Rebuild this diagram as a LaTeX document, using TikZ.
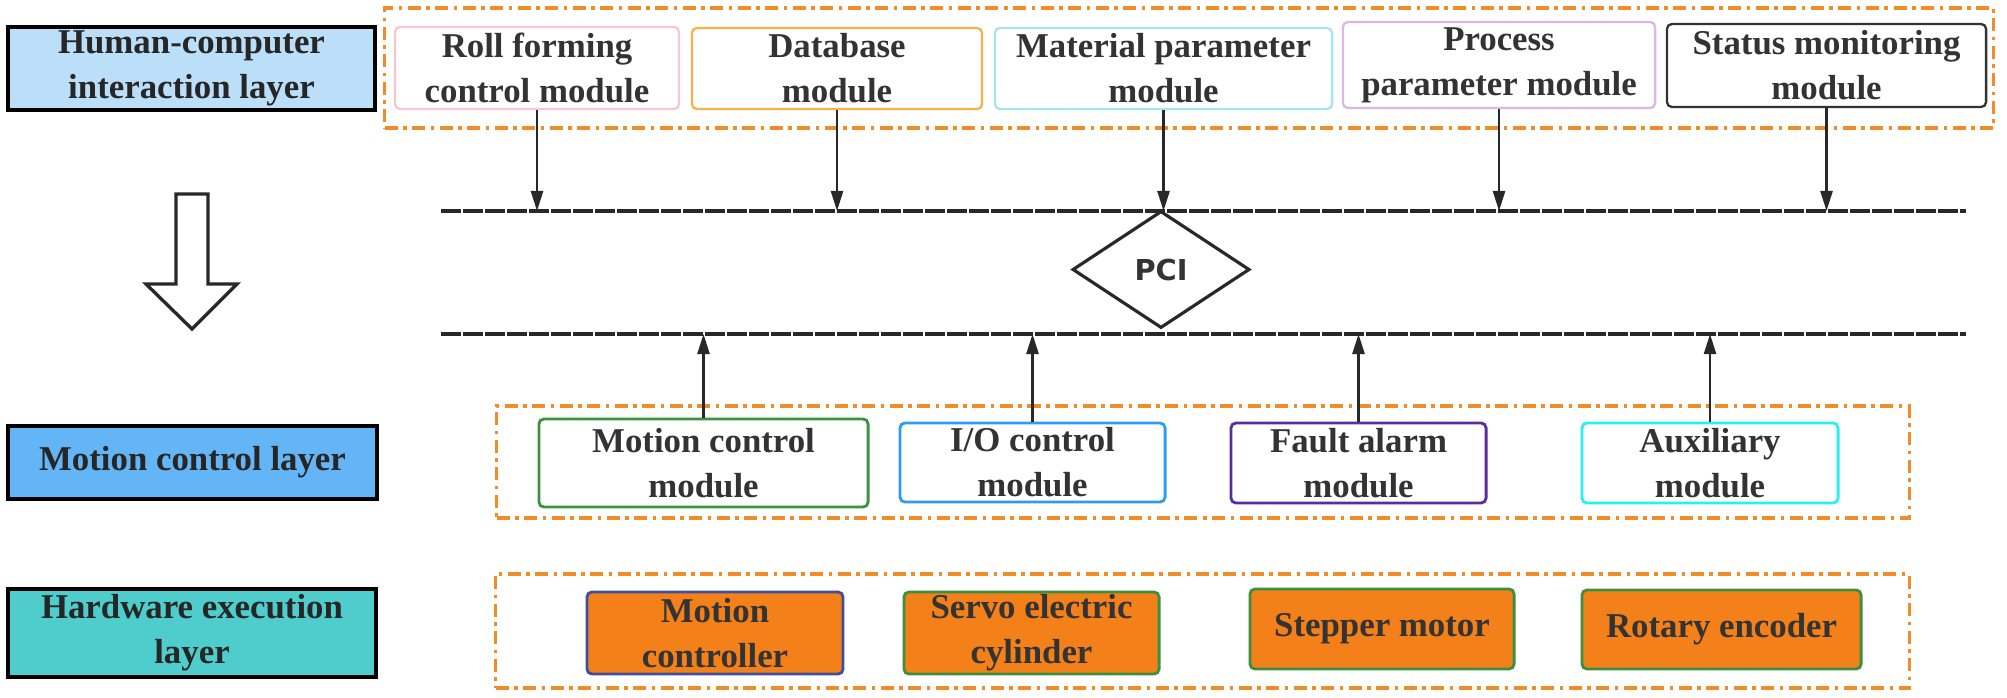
\documentclass[tikz,border=0pt]{standalone}
\usepackage{fontspec}
\setmainfont{Liberation Serif}
\newfontfamily\pcifont{DejaVu Sans}
\usetikzlibrary{shapes.geometric,arrows.meta}
\definecolor{hciFill}{RGB}{187,222,249}
\definecolor{mclFill}{RGB}{100,181,246}
\definecolor{hwlFill}{RGB}{78,205,204}
\definecolor{contOrange}{RGB}{242,140,40}
\definecolor{hwOrange}{RGB}{243,128,25}
\definecolor{txtDark}{RGB}{51,51,51}
\definecolor{lineDark}{RGB}{40,40,40}
\definecolor{cPink}{RGB}{248,198,207}
\definecolor{cOrange}{RGB}{247,178,74}
\definecolor{cLightCyan}{RGB}{169,227,238}
\definecolor{cViolet}{RGB}{221,182,230}
\definecolor{cGreen}{RGB}{62,145,66}
\definecolor{cBlue}{RGB}{47,155,240}
\definecolor{cPurple}{RGB}{91,44,158}
\definecolor{cCyan}{RGB}{42,240,240}
\definecolor{cNavy}{RGB}{62,79,160}
\definecolor{cHwGreen}{RGB}{60,143,60}
\begin{document}
\begin{tikzpicture}[x=0.01cm,y=-0.01cm,
  txt/.style={font=\bfseries\fontsize{9.9}{12.8}\selectfont, align=center, inner sep=0pt},
  layerbox/.style={txt, draw=black, line width=0.95pt, text=black!85},
  modbox/.style={txt, draw, rounded corners=0.05cm, fill=white, line width=0.65pt, text=txtDark},
  midbox/.style={modbox, line width=0.8pt},
  hwbox/.style={modbox, fill=hwOrange, line width=0.8pt},
  container/.style={draw=contOrange, line width=1pt, dash pattern=on 0.13cm off 0.055cm on 0.035cm off 0.055cm, inner sep=0pt},
  bus/.style={draw=lineDark, line width=1pt, dash pattern=on 0.2cm off 0.02cm},
  link/.style={draw=lineDark, line width=0.7pt, -{Triangle[length=0.2cm,width=0.12cm]}}
]
\useasboundingbox (0,0) rectangle (2007,697);

% containers
\node[container, minimum width=16.08cm, minimum height=1.20cm] (C1) at (1189,68) {};
\node[container, minimum width=14.12cm, minimum height=1.12cm] (C2) at (1203,462) {};
\node[container, minimum width=14.13cm, minimum height=1.14cm] (C3) at (1202.5,631) {};

% layer boxes
\node[layerbox, fill=hciFill, minimum width=3.67cm, minimum height=0.83cm] (L1) at (191.5,68.5) {Human-computer\\interaction layer};
\node[layerbox, fill=mclFill, minimum width=3.69cm, minimum height=0.73cm] (L2) at (192.5,462.5) {Motion control layer};
\node[layerbox, fill=hwlFill, minimum width=3.68cm, minimum height=0.88cm] (L3) at (192,633) {Hardware execution\\layer};

% top modules
\node[modbox, draw=cPink, minimum width=2.84cm, minimum height=0.82cm] (roll) at (537,68) {Roll forming\\control module};
\node[modbox, draw=cOrange, minimum width=2.90cm, minimum height=0.81cm] (db) at (837,68.5) {Database\\module};
\node[modbox, draw=cLightCyan, minimum width=3.37cm, minimum height=0.81cm] (mat) at (1163.5,68.5) {Material parameter\\module};
\node[modbox, draw=cViolet, minimum width=3.12cm, minimum height=0.86cm] (proc) at (1499,65) {Process\\parameter module};
\node[modbox, draw=txtDark, minimum width=3.19cm, minimum height=0.83cm] (stat) at (1826.5,65.5) {Status monitoring\\module};

% buses
\coordinate (busTL) at (441,211);
\coordinate (busTR) at (1966,211);
\coordinate (busBL) at (441,334);
\coordinate (busBR) at (1966,334);
\draw[bus] (busTL) -- (busTR);
\draw[bus] (busBL) -- (busBR);

% PCI
\node[diamond, draw=lineDark, line width=0.9pt, fill=white, minimum width=1.77cm, minimum height=1.17cm, inner sep=0pt, font=\pcifont\bfseries\fontsize{8.2}{9}\selectfont, text=txtDark] (pci) at (1161,269.5) {PCI};

% hollow arrow
\draw[draw=lineDark, line width=0.95pt, line join=miter]
  (176,194) -- (208,194) -- (208,284) -- (237,284) -- (192,329) -- (146,284) -- (176,284) -- cycle;

% middle modules
\node[midbox, draw=cGreen, minimum width=3.29cm, minimum height=0.88cm] (mcm) at (703.5,463) {Motion control\\module};
\node[midbox, draw=cBlue, minimum width=2.65cm, minimum height=0.79cm] (io) at (1032.5,462.5) {I/O control\\module};
\node[midbox, draw=cPurple, minimum width=2.55cm, minimum height=0.80cm] (fault) at (1358.5,463) {Fault alarm\\module};
\node[midbox, draw=cCyan, minimum width=2.56cm, minimum height=0.80cm] (aux) at (1710,463) {Auxiliary\\module};

% hardware modules
\node[hwbox, draw=cNavy, minimum width=2.56cm, minimum height=0.82cm] (mc) at (715,633) {Motion\\controller};
\node[hwbox, draw=cHwGreen, minimum width=2.55cm, minimum height=0.82cm] (servo) at (1031.5,633) {Servo electric\\cylinder};
\node[hwbox, draw=cHwGreen, minimum width=2.64cm, minimum height=0.80cm] (step) at (1382,629) {Stepper motor};
\node[hwbox, draw=cHwGreen, minimum width=2.79cm, minimum height=0.79cm] (rot) at (1721.5,629.5) {Rotary encoder};

% arrows down to top bus
\foreach \n in {roll,db,mat,proc,stat}
  \draw[link] (\n.south) -- (\n.south |- busTL);
% arrows up to bottom bus
\foreach \n in {mcm,io,fault,aux}
  \draw[link] (\n.north) -- (\n.north |- busBL);
\end{tikzpicture}
\end{document}
